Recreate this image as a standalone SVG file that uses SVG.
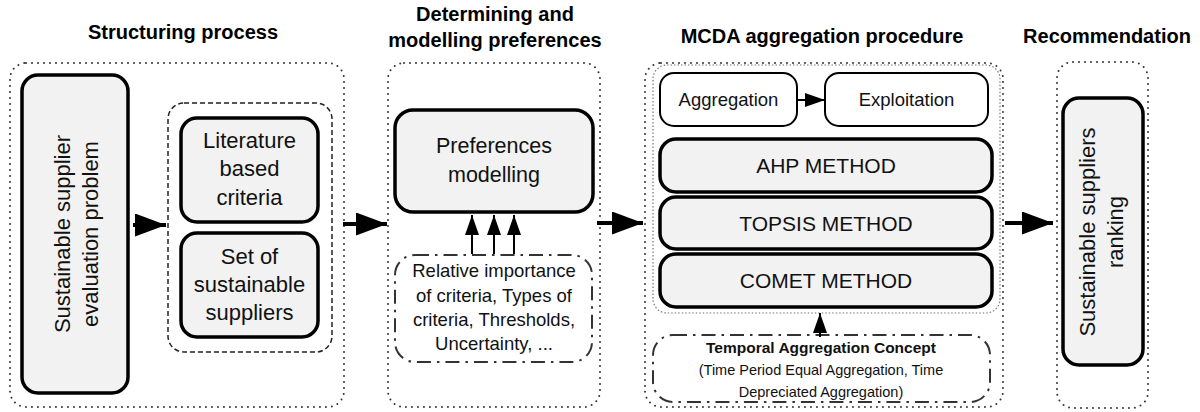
<svg xmlns="http://www.w3.org/2000/svg" width="1200" height="412" viewBox="0 0 1200 412">
<style>
.hdr{font-family:"Liberation Sans",Arial,sans-serif;font-weight:bold;font-size:20px;fill:#000;text-anchor:middle}
.t{font-family:"Liberation Sans",Arial,sans-serif;fill:#111;text-anchor:middle}
.panel{fill:none;stroke:#333;stroke-width:2;stroke-dasharray:0 6;stroke-linecap:round}
.inner{fill:none;stroke:#777;stroke-width:1.2;stroke-dasharray:1.5 2}
.box{fill:#f2f2f2;stroke:#000;stroke-width:3.5}
.wbox{fill:#fff;stroke:#000;stroke-width:2}
.dash{fill:none;stroke:#222;stroke-width:1.5;stroke-dasharray:5 3}
.dd{fill:none;stroke:#333;stroke-width:2;stroke-dasharray:14 6 2.5 6}
.big{stroke:#000;stroke-width:4;fill:none;marker-end:url(#bigHead)}
.small{stroke:#000;stroke-width:2;fill:none;marker-end:url(#smallHead)}
</style>
<defs>
<marker id="bigHead" markerUnits="userSpaceOnUse" markerWidth="31" markerHeight="23" refX="31" refY="11.5" orient="auto">
<path d="M0,0 L31,11.5 L0,23 z" fill="#000"/>
</marker>
<marker id="smallHead" markerUnits="userSpaceOnUse" markerWidth="20" markerHeight="14" refX="20" refY="7" orient="auto">
<path d="M0,0 L20,7 L0,14 z" fill="#000"/>
</marker>
</defs>
<rect width="1200" height="412" fill="#fff"/>

<g id="headers">
<text class="hdr" x="183" y="39">Structuring process</text>
<text class="hdr" x="495" y="21">Determining and</text>
<text class="hdr" x="495" y="47">modelling preferences</text>
<text class="hdr" x="822" y="43">MCDA aggregation procedure</text>
<text class="hdr" x="1107" y="43">Recommendation</text>
</g>

<g id="panels">
<rect class="panel" x="10" y="63" width="334" height="344" rx="16"/>
<rect class="panel" x="388" y="63" width="212" height="344" rx="16"/>
<rect class="panel" x="645" y="63" width="358" height="344" rx="16"/>
<rect class="panel" x="1057" y="62" width="91" height="346" rx="16"/>
<rect class="inner" x="653" y="65" width="347" height="248" rx="14"/>
</g>

<g id="problem">
<rect class="box" x="22" y="75" width="106" height="318" rx="16"/>
<text class="t" font-size="22" transform="translate(75,234) rotate(-90)"><tspan x="0" y="-5">Sustainable supplier</tspan><tspan x="0" y="23">evaluation problem</tspan></text>
</g>

<g id="structure-group">
<rect class="dash" x="168" y="103" width="164" height="249" rx="16"/>
</g>

<g id="literature">
<rect class="box" x="181" y="118" width="137" height="104" rx="16"/>
<text class="t" font-size="22" x="249.5" y="148">Literature</text>
<text class="t" font-size="22" x="249.5" y="176">based</text>
<text class="t" font-size="22" x="249.5" y="205">criteria</text>
</g>

<g id="suppliers">
<rect class="box" x="181" y="233" width="137" height="104" rx="16"/>
<text class="t" font-size="22" x="249.5" y="264">Set of</text>
<text class="t" font-size="22" x="249.5" y="292">sustainable</text>
<text class="t" font-size="22" x="249.5" y="320">suppliers</text>
</g>

<g id="preferences">
<rect class="box" x="395" y="110" width="198" height="102" rx="18"/>
<text class="t" font-size="21.5" x="494" y="153">Preferences</text>
<text class="t" font-size="21.5" x="494" y="182">modelling</text>
</g>

<g id="pref-inputs">
<rect class="dd" x="395" y="255" width="197" height="107" rx="20"/>
<text class="t" font-size="18.5" x="494" y="277">Relative importance</text>
<text class="t" font-size="18.5" x="494" y="302">of criteria, Types of</text>
<text class="t" font-size="18.5" x="494" y="326">criteria, Thresholds,</text>
<text class="t" font-size="18.5" x="494" y="350">Uncertainty, ...</text>
</g>

<g id="aggregation">
<rect class="wbox" x="660" y="73" width="137" height="53" rx="14"/>
<text class="t" font-size="18.5" x="728.5" y="106">Aggregation</text>
</g>
<g id="exploitation">
<rect class="wbox" x="825" y="73" width="163" height="53" rx="14"/>
<text class="t" font-size="18.5" x="906.5" y="106">Exploitation</text>
</g>

<g id="ahp">
<rect class="box" x="660" y="139" width="332" height="53" rx="16"/>
<text class="t" font-size="21" x="826" y="173">AHP METHOD</text>
</g>
<g id="topsis">
<rect class="box" x="660" y="197" width="332" height="52" rx="16"/>
<text class="t" font-size="21" x="826" y="231">TOPSIS METHOD</text>
</g>
<g id="comet">
<rect class="box" x="660" y="254" width="332" height="53" rx="16"/>
<text class="t" font-size="21" x="826" y="288">COMET METHOD</text>
</g>

<g id="temporal">
<rect class="dd" x="653" y="335" width="337" height="67" rx="20"/>
<text class="t" font-size="15.5" font-weight="bold" x="821" y="353">Temporal Aggregation Concept</text>
<text class="t" font-size="14.5" x="821" y="375">(Time Period Equal Aggregation, Time</text>
<text class="t" font-size="14.5" x="821" y="397">Depreciated Aggregation)</text>
</g>

<g id="ranking">
<rect class="box" x="1063" y="98" width="80" height="267" rx="16"/>
<text class="t" font-size="22" transform="translate(1103,232) rotate(-90)"><tspan x="0" y="-8">Sustainable suppliers</tspan><tspan x="0" y="20">ranking</tspan></text>
</g>

<g id="connectors">
<line class="big" x1="133" y1="225" x2="166" y2="225"/>
<line class="big" x1="343" y1="224" x2="387" y2="224"/>
<line class="big" x1="597" y1="223" x2="643" y2="223"/>
<line class="big" x1="1005" y1="223" x2="1053" y2="223"/>
<line class="small" x1="797" y1="100" x2="825" y2="100"/>
<line class="small" x1="472" y1="254" x2="472" y2="215"/>
<line class="small" x1="494" y1="254" x2="494" y2="215"/>
<line class="small" x1="514" y1="254" x2="514" y2="215"/>
<line class="small" x1="820" y1="337" x2="820" y2="313"/>
</g>
</svg>
